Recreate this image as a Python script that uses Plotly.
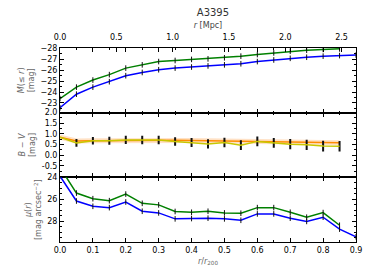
import plotly.graph_objects as go
from plotly.subplots import make_subplots

# ---- data ----
r_r200 = [0.00, 0.05, 0.10, 0.15, 0.20, 0.25, 0.30, 0.35, 0.40, 0.45,
          0.50, 0.55, 0.60, 0.65, 0.70, 0.75, 0.80, 0.85, 0.90]
r200_mpc = 2.92

M_green = [-23.4, -24.45, -25.1, -25.6, -26.2, -26.5, -26.8, -26.9, -27.0, -27.05,
           -27.15, -27.3, -27.45, -27.6, -27.75, -27.85, -27.92, -27.97]
M_blue = [-22.55, -23.8, -24.45, -24.95, -25.5, -25.8, -26.05, -26.2, -26.3, -26.4,
          -26.5, -26.6, -26.8, -26.95, -27.1, -27.2, -27.3, -27.35, -27.4]

BV_orange = [0.85, 0.67, 0.68, 0.69, 0.70, 0.70, 0.70, 0.70, 0.69, 0.68,
             0.67, 0.66, 0.65, 0.64, 0.63, 0.62, 0.60, 0.59]
BV_yellow = [0.85, 0.58, 0.68, 0.68, 0.72, 0.72, 0.72, 0.65, 0.60, 0.53,
             0.60, 0.47, 0.65, 0.58, 0.52, 0.49, 0.43, 0.42]
BV_err = [0.0, 0.18, 0.18, 0.19, 0.19, 0.2, 0.2, 0.2, 0.21, 0.22,
          0.22, 0.23, 0.23, 0.23, 0.24, 0.24, 0.25, 0.25]

mu_green = [23.1, 25.43, 25.94, 26.12, 25.52, 26.36, 26.5, 27.1, 27.17, 27.08,
            27.23, 27.26, 26.75, 26.75, 27.17, 27.62, 27.2, 28.35]
mu_blue = [23.88, 26.15, 26.63, 26.75, 26.24, 27.08, 27.23, 27.77, 27.74, 27.71,
           27.77, 27.9, 27.32, 27.32, 27.71, 28.0, 27.62, 28.7, 29.4]

title = "A3395"

# ---- figure ----
fig = make_subplots(rows=3, cols=1, shared_xaxes=True, vertical_spacing=0)

GREEN = "#008000"
BLUE = "#0000ff"
ORANGE = "#ff8c00"
YELLOW = "#c8c800"

def line_trace(x, y, color, row):
    fig.add_trace(go.Scatter(
        x=x, y=y, mode="lines+markers",
        line=dict(color=color, width=1.5),
        marker=dict(symbol="line-ns", size=4, line=dict(color="#111111", width=1)),
        showlegend=False), row=row, col=1)

line_trace(r_r200[:len(M_green)], M_green, GREEN, 1)
line_trace(r_r200[:len(M_blue)], M_blue, BLUE, 1)

# middle panel
xs = r_r200[:len(BV_orange)]
fig.add_trace(go.Scatter(x=xs, y=BV_orange, mode="lines",
                         line=dict(color="rgba(255,170,90,0.35)", width=5),
                         showlegend=False), row=2, col=1)
fig.add_trace(go.Scatter(x=xs, y=BV_orange, mode="lines",
                         line=dict(color=ORANGE, width=1.5),
                         showlegend=False), row=2, col=1)
fig.add_trace(go.Scatter(x=xs, y=BV_yellow, mode="lines",
                         line=dict(color=YELLOW, width=1.5),
                         error_y=dict(type="data", array=BV_err, color="#111111",
                                      thickness=2, width=0),
                         showlegend=False), row=2, col=1)

line_trace(r_r200[:len(mu_green)], mu_green, GREEN, 3)
line_trace(r_r200[:len(mu_blue)], mu_blue, BLUE, 3)

# top axis trace (invisible)
fig.add_trace(go.Scatter(x=[0, 0.9 * r200_mpc], y=[-28, -28], mode="lines",
                         line=dict(width=0), hoverinfo="skip",
                         showlegend=False, xaxis="x4", yaxis="y"))

FONT = dict(family="DejaVu Sans", size=8, color="black")
TITLEFONT = dict(family="DejaVu Sans", size=8, color="#666666")

common_x = dict(range=[0, 0.9], showline=True, linecolor="black", linewidth=1,
                mirror="ticks", ticks="inside", ticklen=4, tickcolor="black",
                dtick=0.1, tick0=0, showgrid=False, zeroline=False,
                minor=dict(dtick=0.05, ticks="inside", ticklen=2, tickcolor="black"),
                tickfont=FONT)
common_y = dict(showline=True, linecolor="black", linewidth=1, mirror="ticks",
                ticks="inside", ticklen=4, tickcolor="black", showgrid=False,
                zeroline=False, tickfont=FONT, title_font=TITLEFONT, title_standoff=4)

fig.update_xaxes(**common_x)
fig.update_xaxes(showticklabels=True, tickformat=".1f",
                 title=dict(text="<i>r</i>/<i>r</i><sub>200</sub>", font=TITLEFONT,
                            standoff=4), row=3, col=1)

fig.update_yaxes(**common_y)
fig.update_yaxes(range=[-22.1, -28.05], tickvals=[-28, -27, -26, -25, -24, -23],
                 minor=dict(dtick=0.5, ticks="inside", ticklen=2, tickcolor="black"),
                 title_text="<i>M</i>(≤ <i>r</i>)<br>[mag]", row=1, col=1)
fig.update_yaxes(range=[-1.04, 2.0], tickvals=[2.0, 1.5, 1.0, 0.5, 0.0, -0.5],
                 ticktext=["2.0", "1.5", "1.0", "0.5", "0.0", "-0.5"],
                 minor=dict(dtick=0.25, ticks="inside", ticklen=2, tickcolor="black"),
                 title_text="<i>B</i> − <i>V</i><br>[mag]", row=2, col=1)
fig.update_yaxes(range=[29.87, 24.0], tickvals=[24, 26, 28],
                 minor=dict(dtick=0.5, ticks="inside", ticklen=2, tickcolor="black"),
                 title_text="<i>μ</i>(<i>r</i>)<br>[mag arcsec<sup>−2</sup>]", row=3, col=1)

fig.update_layout(
    xaxis4=dict(overlaying="x", anchor="y", side="top", range=[0, 0.9 * r200_mpc],
                dtick=0.5, tick0=0, tickformat=".1f", ticks="inside", ticklen=4,
                tickcolor="black", showgrid=False, zeroline=False, showline=False,
                tickfont=FONT, ticklabelstandoff=5,
                title=dict(text="<i>r</i> [Mpc]", font=dict(family="DejaVu Sans", size=8,
                                                          color="#444444"), standoff=3)),
    title=dict(text=title, x=0.56, xanchor="center", y=0.995, yanchor="top",
               font=dict(family="DejaVu Sans", size=10, color="#333333")),
    width=366, height=272,
    margin=dict(l=52, r=16, t=40, b=38),
    paper_bgcolor="white", plot_bgcolor="white",
    showlegend=False,
)

fig.write_html("out.html")
